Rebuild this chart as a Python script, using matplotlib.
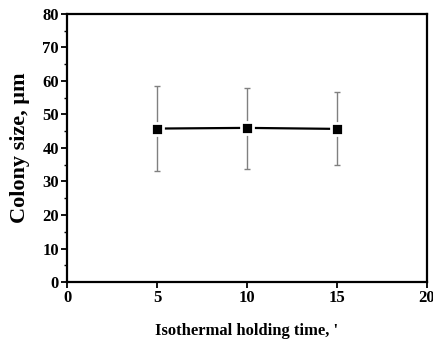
import matplotlib
matplotlib.use('Agg')
import matplotlib.pyplot as plt
from matplotlib.ticker import MultipleLocator

# Colony size vs isothermal holding time
times = [5, 10, 15]
colony_size = [45.8, 46.0, 45.7]
err_upper = [58.5, 58.0, 56.8]
err_lower = [33.0, 33.8, 34.8]

yerr = [[c - lo for c, lo in zip(colony_size, err_lower)],
        [hi - c for c, hi in zip(colony_size, err_upper)]]

plt.rcParams['font.family'] = ['Liberation Serif', 'DejaVu Serif']
plt.rcParams['font.weight'] = 'bold'

fig = plt.figure(figsize=(4.33, 3.41), dpi=100)
ax = fig.add_axes([0.155, 0.173, 0.831, 0.786])

ax.errorbar(times, colony_size, yerr=yerr, fmt='none', ecolor='#808080',
            elinewidth=1.0, capsize=2, capthick=1.0, zorder=2)
ax.plot(times, colony_size, color='black', linewidth=1.6, zorder=3)
ax.plot(times, colony_size, linestyle='none', marker='s', markersize=8.5,
        markerfacecolor='black', markeredgecolor='white', markeredgewidth=2.0,
        zorder=4)

ax.set_xlim(0, 20)
ax.set_ylim(0, 80)
ax.xaxis.set_major_locator(MultipleLocator(5))
ax.yaxis.set_major_locator(MultipleLocator(10))
ax.yaxis.set_minor_locator(MultipleLocator(5))

for s in ax.spines.values():
    s.set_linewidth(1.6)

ax.tick_params(axis='both', which='major', direction='out', length=4, width=1.3,
               labelsize=12, pad=2)
ax.tick_params(axis='y', which='minor', direction='out', length=2.5, width=1.0)
ax.tick_params(top=False, right=False)

ax.set_xlabel("Isothermal holding time, '", fontsize=12, fontweight='bold',
              labelpad=12)
ax.set_ylabel('Colony size, μm', fontsize=16, fontweight='bold', labelpad=9)

fig.savefig('out.png', dpi=100)
